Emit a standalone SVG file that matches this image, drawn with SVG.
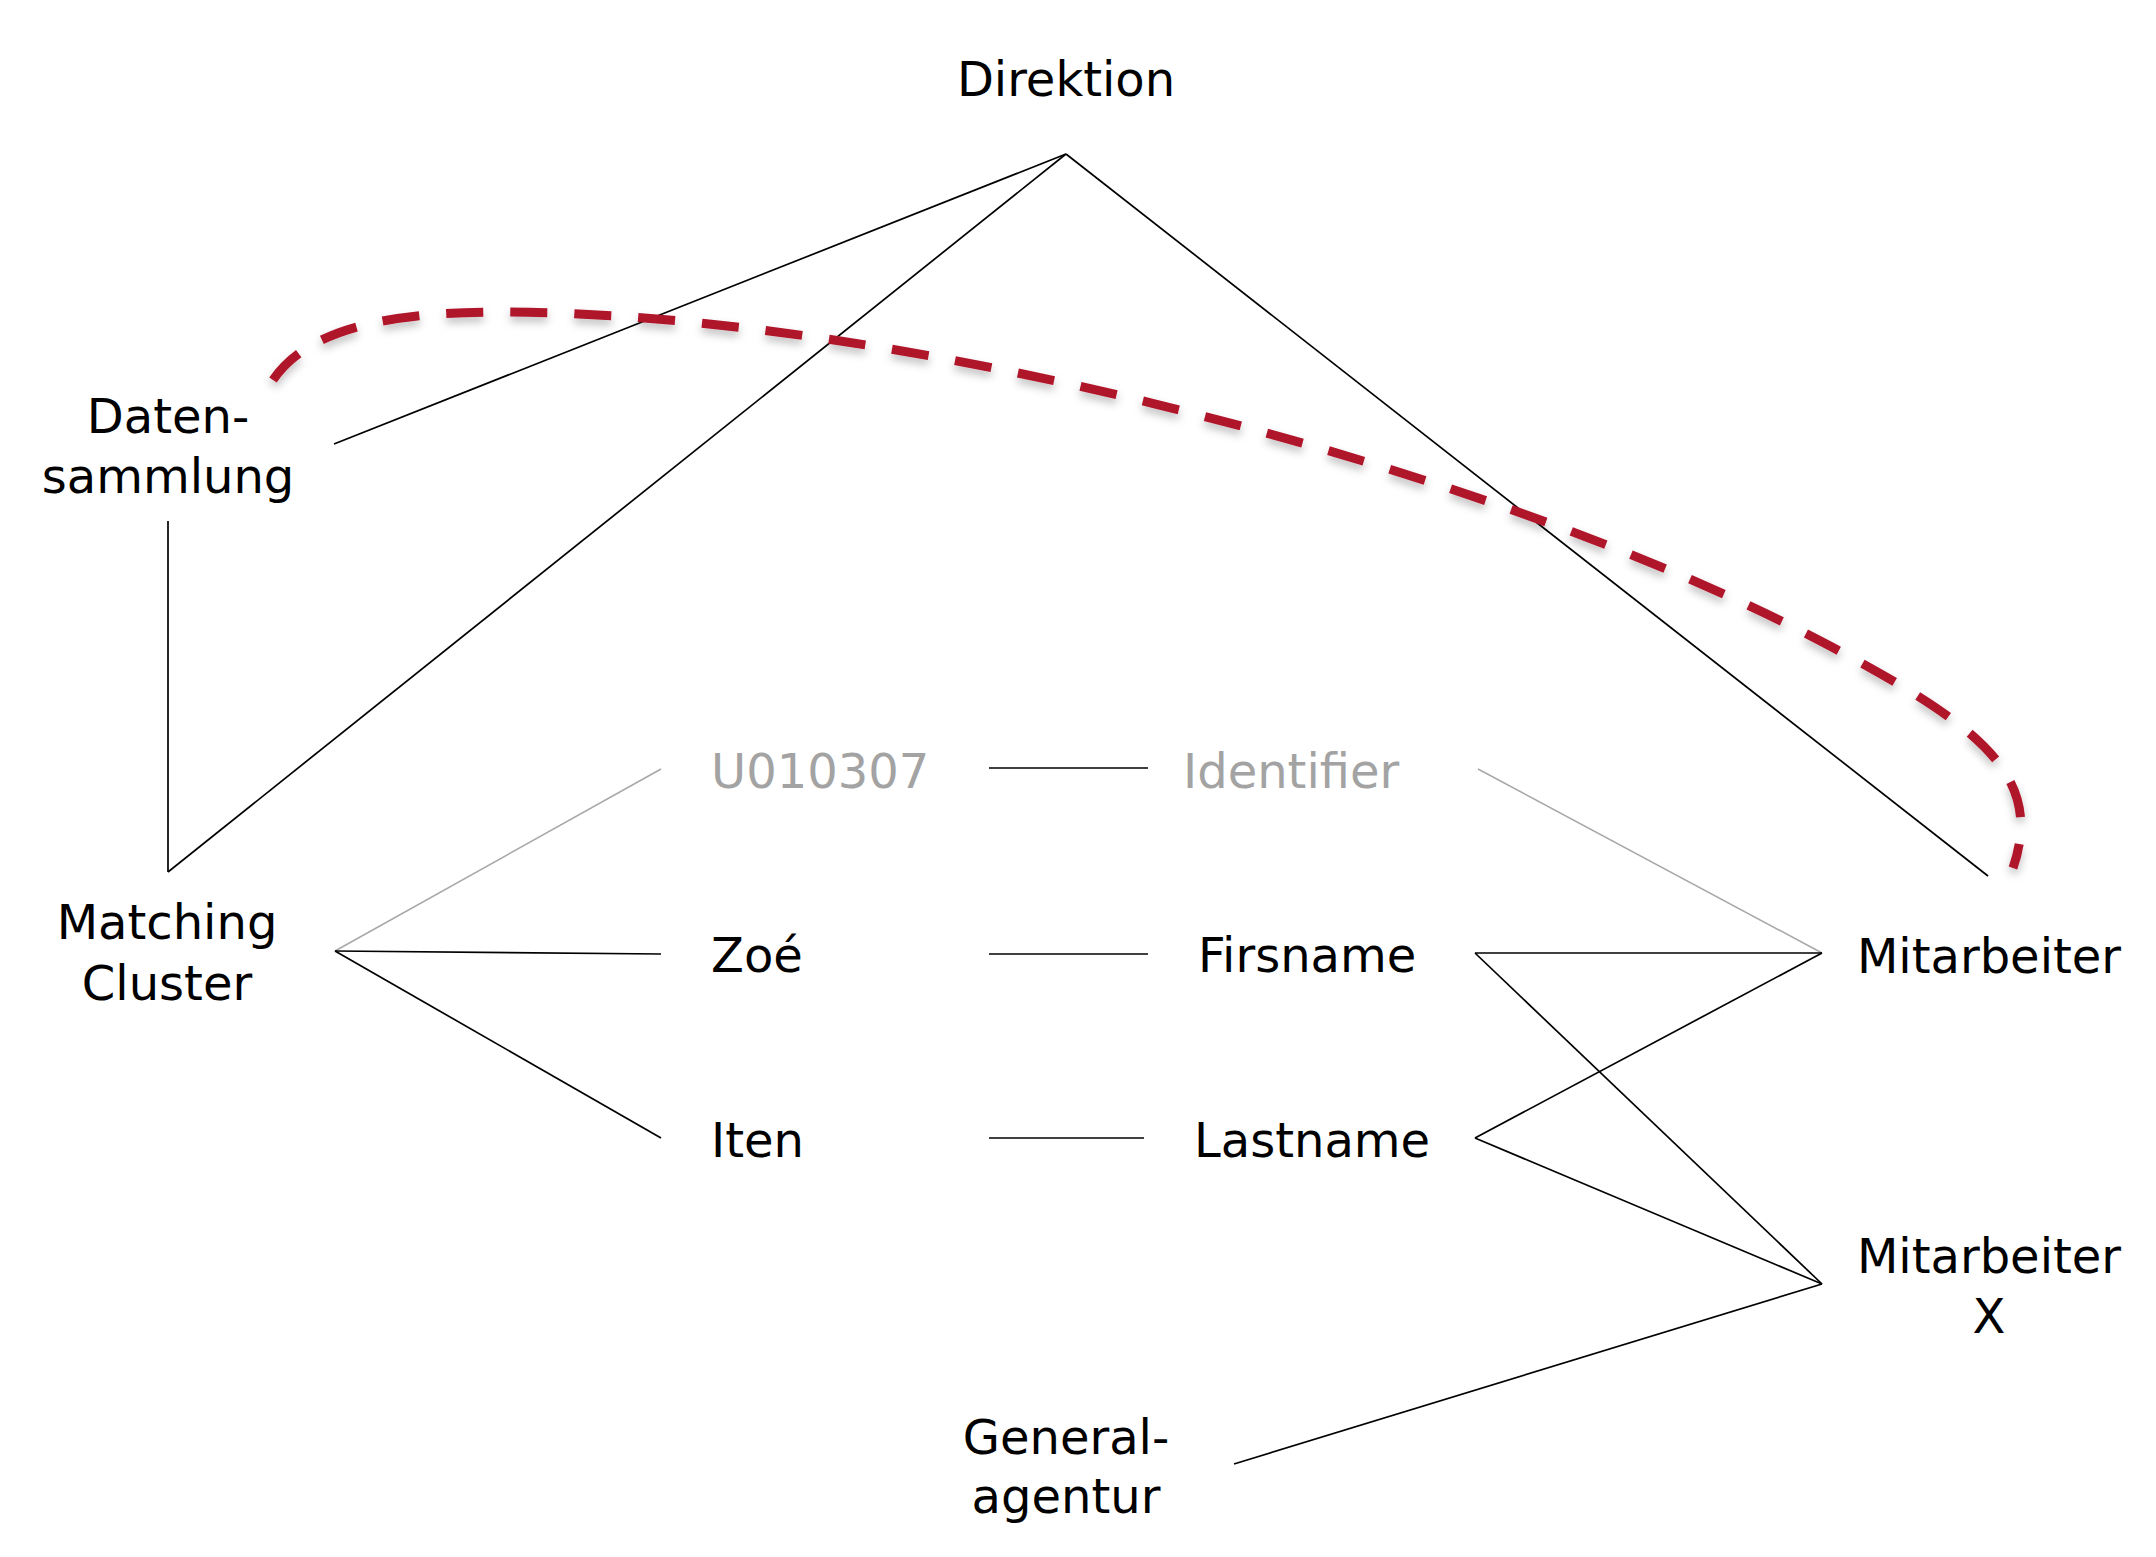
<svg xmlns="http://www.w3.org/2000/svg" width="2156" height="1557" viewBox="0 0 2156 1557">
<style>
text{font-family:"DejaVu Sans","Noto Sans",sans-serif;font-size:48px;fill:#000}
.g{fill:#a3a3a3}
.m{text-anchor:middle}
.ln{stroke:#000;stroke-width:1.7;fill:none}
.lg{stroke:#a8a8a8;stroke-width:1.5;fill:none}
.dash{stroke:#b0142b;stroke-width:9;fill:none;stroke-dasharray:37 27}
</style>
<defs>
<filter id="sh" x="-10%" y="-10%" width="120%" height="130%">
<feDropShadow dx="0" dy="5" stdDeviation="4" flood-color="#000" flood-opacity="0.25"/>
</filter>
</defs>
<rect width="2156" height="1557" fill="#fff"/>
<g id="connectors">
<line class="ln" x1="1066" y1="154" x2="334" y2="444"/>
<line class="ln" x1="1066" y1="154" x2="168" y2="872"/>
<line class="ln" x1="1066" y1="154" x2="1988" y2="876"/>
<line class="ln" x1="168" y1="521" x2="168" y2="872"/>
<line class="lg" x1="335" y1="951" x2="661" y2="769"/>
<line class="ln" x1="335" y1="951" x2="661" y2="954"/>
<line class="ln" x1="335" y1="951" x2="661" y2="1138"/>
<line class="ln" x1="989" y1="768" x2="1148" y2="768"/>
<line class="ln" x1="989" y1="954" x2="1148" y2="954"/>
<line class="ln" x1="989" y1="1138" x2="1144" y2="1138"/>
<line class="lg" x1="1478" y1="769" x2="1822" y2="953"/>
<line class="ln" x1="1475" y1="953" x2="1822" y2="953"/>
<line class="ln" x1="1475" y1="953" x2="1822" y2="1284"/>
<line class="ln" x1="1475" y1="1138" x2="1822" y2="953"/>
<line class="ln" x1="1475" y1="1138" x2="1822" y2="1284"/>
<line class="ln" x1="1822" y1="1284" x2="1234" y2="1464"/>
<path class="dash" filter="url(#sh)" d="M273,380 C310,325 400,312 500,312 C900,312 1500,470 1830,646 C1978,725 2045,775 2013,868"/>
</g>
<g id="n-direktion"><text class="m" x="1066" y="96">Direktion</text></g>
<g id="n-datensammlung"><text class="m" x="168" y="433">Daten-</text><text class="m" x="168" y="493">sammlung</text></g>
<g id="n-matching"><text class="m" x="167" y="939">Matching</text><text class="m" x="167" y="1000">Cluster</text></g>
<g id="n-u010307"><text class="g" x="711" y="788">U010307</text></g>
<g id="n-identifier"><text class="g" x="1183" y="788">Identifier</text></g>
<g id="n-zoe"><text x="711" y="972">Zoé</text></g>
<g id="n-firsname"><text x="1198" y="972">Firsname</text></g>
<g id="n-iten"><text x="711" y="1157">Iten</text></g>
<g id="n-lastname"><text x="1194" y="1157">Lastname</text></g>
<g id="n-mitarbeiter"><text class="m" x="1989" y="973">Mitarbeiter</text></g>
<g id="n-mitarbeiterx"><text class="m" x="1989" y="1273">Mitarbeiter</text><text class="m" x="1989" y="1333">X</text></g>
<g id="n-generalagentur"><text class="m" x="1066" y="1454">General-</text><text class="m" x="1066" y="1513">agentur</text></g>
</svg>
